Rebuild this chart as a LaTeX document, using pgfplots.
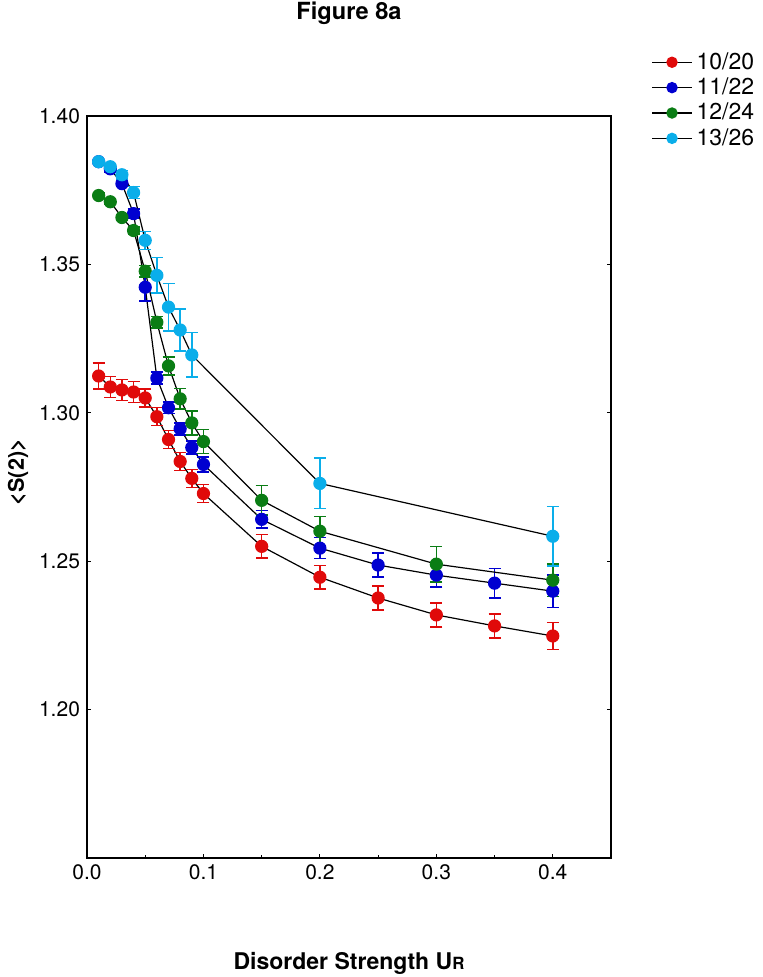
\documentclass[border=0pt]{standalone}
\usepackage{fontspec}
\setmainfont{TeX Gyre Heros}
\usepackage{pgfplots}
\pgfplotsset{compat=1.18}
\definecolor{sred}{HTML}{E00A0A}
\definecolor{sblue}{HTML}{0000D0}
\definecolor{sgreen}{HTML}{0A7D14}
\definecolor{scyan}{HTML}{0AAEEA}

\pgfplotsset{
  errs/.style={error bars/.cd, y dir=both, y explicit,
    error bar style={#1, line width=0.75pt},
    error mark options={#1, rotate=90, mark size=3pt, line width=0.75pt}},
}

\begin{document}
\begin{tikzpicture}
\path[use as bounding box] (0,0) rectangle (381.5pt,488.5pt);
\begin{axis}[
  at={(43.5pt,59.5pt)}, anchor=south west,
  scale only axis,
  width=262pt, height=371pt,
  xmin=0, xmax=0.45, ymin=1.15, ymax=1.40,
  xtick={0,0.1,0.2,0.3,0.4},
  minor xtick={0.05,0.15,0.25,0.35},
  ytick={1.20,1.25,1.30,1.35,1.40},
  xticklabel style={/pgf/number format/.cd,fixed,fixed zerofill,precision=1},
  yticklabel style={/pgf/number format/.cd,fixed,fixed zerofill,precision=2},
  /pgf/number format/assume math mode=true,
  tick label style={font=\fontsize{10.5}{12}\selectfont},
  xtick pos=bottom,
  ytick pos=both,
  tick align=inside,
  major tick length=2.2pt, minor tick length=1.6pt,
  axis line style={line width=0.75pt},
  tick style={line width=0.6pt, black},
  every axis title shift=0pt,
  title={\textbf{Figure 8a}},
  title style={font=\fontsize{11.8}{13}\selectfont, at={(0.5,1.139)}, anchor=center, yshift=0pt},
  xlabel={\textbf{Disorder Strength U{\fontsize{8.4}{9}\selectfont R}}},
  xlabel style={font=\fontsize{11.5}{13}\selectfont, at={(rel axis cs:0.5,-0.1415)}, anchor=center},
  ylabel={\textbf{<S(2)>}},
  ylabel style={font=\fontsize{10.8}{12}\selectfont, at={(rel axis cs:-0.1317,0.52)}, anchor=center},
  legend style={at={(rel axis cs:1,1)}, anchor=north west, xshift=17pt, yshift=36pt,
    draw=none, fill=none, font=\fontsize{11.5}{11.5}\selectfont, row sep=-1.2pt,
    /tikz/every even column/.append style={column sep=4.5pt}},
  legend cell align=left,
  legend image code/.code={\draw[mark repeat=2,mark phase=2,mark size=2.5pt,line width=0.7pt] plot coordinates {(0cm,0cm) (0.35cm,0cm) (0.7cm,0cm)};},
  every axis plot/.append style={black, line width=0.6pt, mark=*, mark size=3pt},
]
\addplot[mark options={fill=sred, draw=sred}, errs=sred]
  table[x=x, y=y, y error=e] {
x y e
0.01 1.3124 0.0044
0.02 1.3087 0.0035
0.03 1.3077 0.0035
0.04 1.3070 0.0035
0.05 1.3050 0.0030
0.06 1.2987 0.0030
0.07 1.2910 0.0030
0.08 1.2836 0.0030
0.09 1.2779 0.0030
0.10 1.2728 0.0030
0.15 1.2550 0.0040
0.20 1.2446 0.0040
0.25 1.2376 0.0040
0.30 1.2319 0.0040
0.35 1.2282 0.0040
0.40 1.2248 0.0045
};
\addlegendentry{10/20}
\addplot[mark options={fill=sblue, draw=sblue}, errs=sblue]
  table[x=x, y=y, y error=e] {
x y e
0.01 1.3846 0.0008
0.02 1.3822 0.0010
0.03 1.3772 0.0010
0.04 1.3671 0.0015
0.05 1.3423 0.0047
0.06 1.3117 0.0020
0.07 1.3017 0.0020
0.08 1.2946 0.0020
0.09 1.2883 0.0022
0.10 1.2826 0.0025
0.15 1.2641 0.0030
0.20 1.2544 0.0035
0.25 1.2487 0.0040
0.30 1.2453 0.0040
0.35 1.2426 0.0050
0.40 1.2399 0.0055
};
\addlegendentry{11/22}
\addplot[mark options={fill=sgreen, draw=sgreen}, errs=sgreen]
  table[x=x, y=y, y error=e] {
x y e
0.01 1.3732 0.0010
0.02 1.3711 0.0010
0.03 1.3658 0.0010
0.04 1.3614 0.0012
0.05 1.3477 0.0020
0.06 1.3305 0.0020
0.07 1.3158 0.0030
0.08 1.3047 0.0035
0.09 1.2966 0.0040
0.10 1.2903 0.0040
0.15 1.2705 0.0050
0.20 1.2601 0.0050
0.30 1.2490 0.0060
0.40 1.2436 0.0055
};
\addlegendentry{12/24}
\addplot[mark options={fill=scyan, draw=scyan}, errs=scyan]
  table[x=x, y=y, y error=e] {
x y e
0.01 1.3846 0.0005
0.02 1.3829 0.0010
0.03 1.3802 0.0015
0.04 1.3742 0.0020
0.05 1.3581 0.0030
0.06 1.3463 0.0060
0.07 1.3356 0.0080
0.08 1.3279 0.0070
0.09 1.3195 0.0075
0.20 1.2762 0.0085
0.40 1.2584 0.0100
};
\addlegendentry{13/26}
\end{axis}
\end{tikzpicture}
\end{document}
